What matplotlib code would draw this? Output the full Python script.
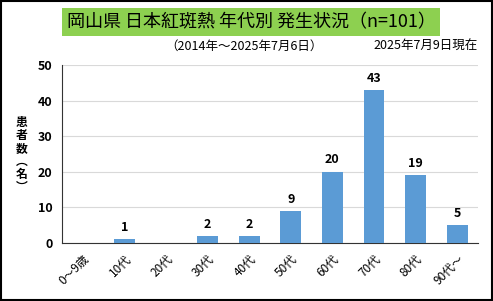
import matplotlib.pyplot as plt
import numpy as np

plt.rcParams['font.family'] = ['Noto Sans CJK JP', 'DejaVu Sans']

# データ
categories = ['0～9歳', '10代', '20代', '30代', '40代', '50代', '60代', '70代', '80代', '90代～']
counts = [0, 1, 0, 2, 2, 9, 20, 43, 19, 5]
yticks = [0, 10, 20, 30, 40, 50]

fig = plt.figure(figsize=(4.93, 3.01), dpi=100)
ax = fig.add_axes([62/493, 1 - 243/301, 416/493, 178/301])

x = np.arange(len(categories))
ax.bar(x, counts, width=0.5, color='#5B9BD5', zorder=3)
for xi, c in zip(x, counts):
    if c > 0:
        ax.text(xi, c + 1.5, str(c), ha='center', va='bottom', fontsize=9, fontweight='bold')

ax.set_xlim(-0.5, len(categories) - 0.5)
ax.set_ylim(0, 50)
ax.set_yticks(yticks)
ax.set_yticklabels([str(t) for t in yticks], fontsize=9, fontweight='bold')
ax.set_xticks(x)
ax.set_xticklabels(categories, rotation=45, ha='right', rotation_mode='anchor', fontsize=8.5)
ax.tick_params(length=0, pad=7)
ax.grid(axis='y', color='#D9D9D9', linewidth=0.8, zorder=0)
for s in ['top', 'right']:
    ax.spines[s].set_visible(False)
ax.spines['left'].set_color('#333333')
ax.spines['bottom'].set_color('#333333')

# 縦書きのラベル
fig.text(22/493, 1 - 155/301, '患\n者\n数\n︵\n名\n︶', ha='center', va='center',
         fontsize=8.5, fontweight='bold', linespacing=1.0)

# タイトル
fig.text(251/493, 1 - 22/301, '岡山県 日本紅斑熱 年代別 発生状況（n=101）', ha='center', va='center',
         fontsize=13, bbox=dict(facecolor='#8DD050', edgecolor='none', pad=3.5))
fig.text(244/493, 1 - 46/301, '（2014年～2025年7月6日）', ha='center', va='center', fontsize=9)
fig.text(426/493, 1 - 46/301, '2025年7月9日現在', ha='center', va='center', fontsize=9)

# 外枠
fig.patches.append(plt.Rectangle((0.002, 0.003), 0.995, 0.994, transform=fig.transFigure,
                                 fill=False, edgecolor='black', linewidth=1.5))

fig.savefig('out.png', dpi=100)
